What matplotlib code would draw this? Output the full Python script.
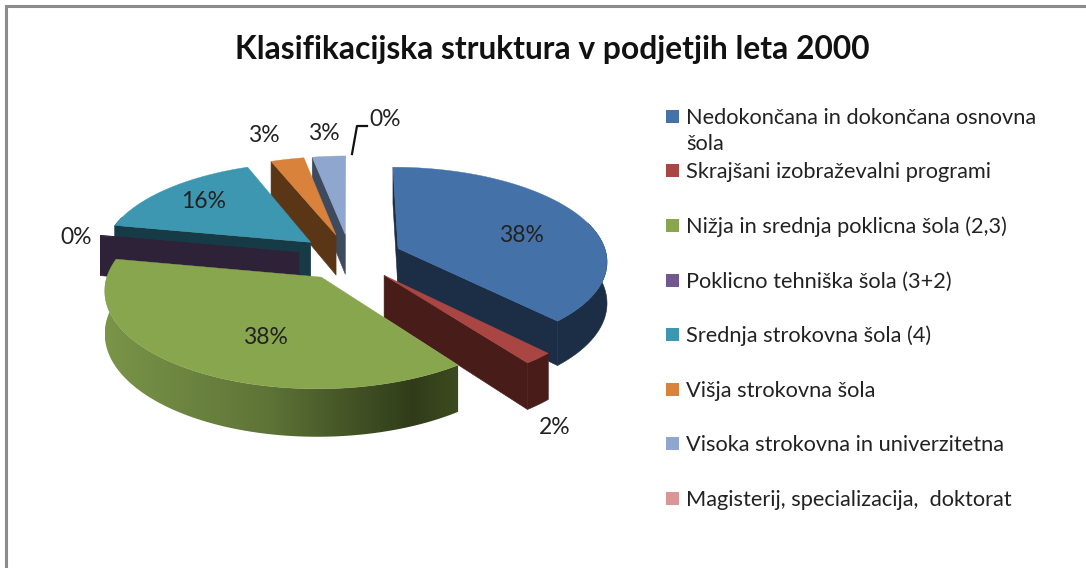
import numpy as np
import matplotlib
matplotlib.use("Agg")
from matplotlib import pyplot as plt
from matplotlib.colors import LinearSegmentedColormap
from matplotlib.patches import Polygon, Rectangle

plt.rcParams['font.family'] = ['Lato', 'DejaVu Sans']

title = "Klasifikacijska struktura v podjetjih leta 2000"
categories = ["Nedokončana in dokončana osnovna\nšola",
              "Skrajšani izobraževalni programi",
              "Nižja in srednja poklicna šola (2,3)",
              "Poklicno tehniška šola (3+2)",
              "Srednja strokovna šola (4)",
              "Višja strokovna šola",
              "Visoka strokovna in univerzitetna",
              "Magisterij, specializacija,  doktorat"]
values = [38.0, 2.0, 38.0, 0.1, 16.0, 2.95, 2.95, 0.0]

top_colors = ["#4472A8", "#A94643", "#88A64E", "#2E2238", "#3E97B0", "#D9823C", "#8FA6CF", "#D99694"]
legend_colors = ["#4472A8", "#A94643", "#88A64E", "#71588F", "#3E97B0", "#D9823C", "#8FA6CF", "#D99694"]
wall_colors = ["#1B2E46", "#471C19", "#36431E", "#2E2238", "#173B46", "#5B3616", "#3E4A5E", "#5A3C3B"]

# where the percent labels sit, in picture pixels
label_xy = [(521, 235), (555, 427), (265, 337), (76, 237), (204, 201), (264, 136), (324, 134), (385, 120)]
legend_y = [117, 171, 226, 281, 335, 390, 444, 499]

# pie geometry in picture pixels
cx, cy = 350, 257
rx, ry = 209, 93
depth = 41
explode = 0.25
persp = 0.12


def project(x, y, drop=0.0):
    p = 1 / (1 + persp * y)
    return cx + rx * x * p, cy - ry * y * p + drop * depth * p


fig = plt.figure(figsize=(10.86, 5.68), dpi=100)
ax = fig.add_axes([0, 0, 1, 1])
ax.set_xlim(0, 1086)
ax.set_ylim(568, 0)
ax.axis("off")

# chart frame, only left and top show in the crop
ax.plot([6, 6, 1086], [568, 6, 6], color="#8c8c8c", lw=2.2, solid_joinstyle="miter")

ax.text(552, 49, title, fontsize=22.9, fontweight="bold", color="#111111", ha="center", va="center")

green_rim = LinearSegmentedColormap.from_list(
    "green_rim", [(0, "#7A9448"), (0.45, "#5F7538"), (0.87, "#303C19"), (1, "#3D4B20")])

ends = np.cumsum(values) / sum(values) * 2 * np.pi
starts = np.concatenate([[0], ends[:-1]])
mids = (starts + ends) / 2

# painter order, slices at the back first
order = np.argsort(-np.cos(mids))
for i in order:
    if values[i] == 0:
        continue
    a0, a1 = starts[i], ends[i]
    ax0 = explode * np.sin(mids[i])
    ay0 = explode * np.cos(mids[i])
    th = np.linspace(a0, a1, max(3, int((a1 - a0) * 60)))
    ox = ax0 + np.sin(th)
    oy = ay0 + np.cos(th)

    # radial walls that face the viewer
    for a, visible in ((a0, np.sin(a0) <= 1e-6), (a1, np.sin(a1) > 1e-6)):
        if visible:
            ex, ey = ax0 + np.sin(a), ay0 + np.cos(a)
            pts = [project(ax0, ay0), project(ex, ey), project(ex, ey, 1), project(ax0, ay0, 1)]
            ax.fill(*zip(*pts), color=wall_colors[i], lw=0.4)

    # outer rim, front part only (the top face hides what is left over)
    front = np.cos(th) <= 0.3
    if front.sum() > 1:
        x_up, y_up = project(ox[front], oy[front])
        x_dn, y_dn = project(ox[front], oy[front], 1)
        rim = np.column_stack([np.r_[x_up, x_dn[::-1]], np.r_[y_up, y_dn[::-1]]])
        if i == 2:
            # green rim gets lighter towards the left
            poly = Polygon(rim, closed=True, fc="none", ec="none", transform=ax.transData)
            ax.add_patch(poly)
            grad = np.linspace(0, 1, 256).reshape(1, -1)
            im = ax.imshow(grad, cmap=green_rim, aspect="auto", interpolation="bilinear",
                           extent=(rim[:, 0].min(), rim[:, 0].max(), rim[:, 1].max(), rim[:, 1].min()))
            im.set_clip_path(poly)
            ax.set_xlim(0, 1086)
            ax.set_ylim(568, 0)
        else:
            ax.add_patch(Polygon(rim, closed=True, color=wall_colors[i], lw=0.4))

    # top face
    xs, ys = project(np.r_[ax0, ox], np.r_[ay0, oy])
    ax.fill(xs, ys, color=top_colors[i], lw=0.3)

for v, (lx, ly) in zip(values, label_xy):
    ax.text(lx, ly, f"{round(v)}%", fontsize=16.5, color="#222222", ha="center", va="center")

# leader line of the last 0%
ax.plot([352, 357, 367], [154, 126, 126], color="#111111", lw=1.6)

for name, col, ly in zip(categories, legend_colors, legend_y):
    ax.add_patch(Rectangle((666, ly - 7), 13, 13, color=col, lw=0))
    first, *rest = name.split("\n")
    ax.text(686, ly + 1, first, fontsize=15.7, color="#222222", va="center")
    for k, line in enumerate(rest):
        ax.text(686, ly + 1 + 26 * (k + 1), line, fontsize=15.7, color="#222222", va="center")

fig.savefig("out.png", dpi=100)
